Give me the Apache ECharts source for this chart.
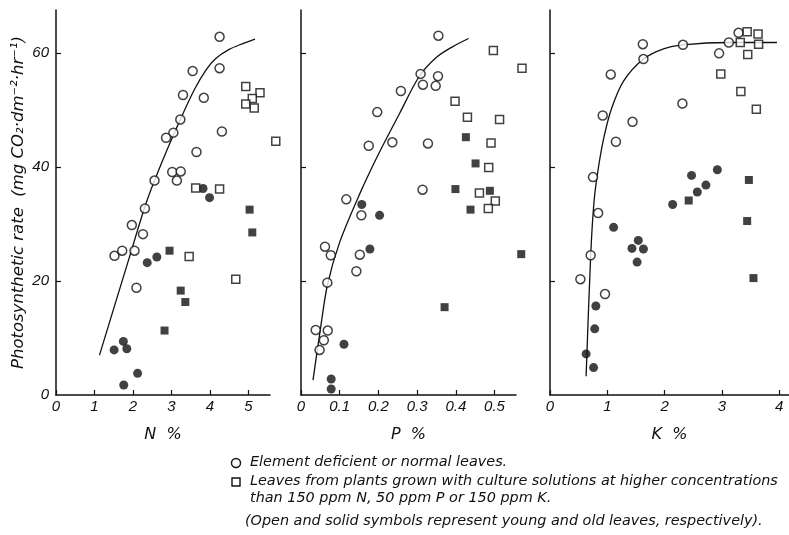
<!DOCTYPE html>
<html>
<head>
<meta charset="utf-8">
<script src="https://cdn.jsdelivr.net/npm/echarts@6/dist/echarts.min.js"></script>
<style>
html,body{margin:0;padding:0;background:#fff;}
#c{width:789px;height:535px;}
</style>
</head>
<body>
<div id="c"></div>
<script>
// ---- Data ----
const yTicks = [0, 20, 40, 60];
const nTicks = [0, 1, 2, 3, 4, 5];
const pTicks = [0, 0.1, 0.2, 0.3, 0.4, 0.5];
const kTicks = [0, 1, 2, 3, 4];

// N panel
const nOpenCircle = [[4.25,62.8],[3.55,56.8],[4.25,57.3],[3.30,52.6],[3.84,52.1],[3.23,48.3],[3.05,46.0],[2.86,45.1],[4.31,46.2],[3.65,42.6],[3.02,39.1],[3.24,39.2],[3.14,37.6],[2.56,37.6],[2.31,32.7],[1.97,29.8],[2.26,28.2],[1.52,24.4],[1.72,25.3],[2.04,25.3],[2.09,18.8]];
const nSolidCircle = [[3.82,36.2],[3.99,34.6],[2.37,23.2],[2.62,24.2],[1.75,9.4],[1.51,7.9],[1.84,8.1],[2.12,3.8],[1.76,1.75]];
const nOpenSquare = [[4.93,54.1],[5.30,53.0],[5.10,52.0],[4.93,51.0],[5.15,50.3],[5.71,44.5],[3.63,36.3],[4.25,36.1],[3.46,24.3],[4.67,20.3]];
const nSolidSquare = [[2.95,25.3],[5.03,32.5],[5.10,28.5],[3.24,18.3],[3.36,16.3],[2.82,11.3]];
const nCurve = [[1.13,7],[1.9,24],[2.36,34],[2.8,41.6],[3.23,48.3],[3.6,53.6],[3.9,57.0],[4.15,59.0],[4.5,60.6],[4.85,61.6],[5.17,62.4]];

// P panel
const pOpenCircle = [[0.355,63.0],[0.309,56.3],[0.354,55.9],[0.315,54.4],[0.348,54.2],[0.258,53.3],[0.197,49.6],[0.175,43.7],[0.236,44.3],[0.328,44.1],[0.314,36.0],[0.117,34.3],[0.156,31.5],[0.062,26.0],[0.077,24.5],[0.152,24.6],[0.143,21.7],[0.068,19.7],[0.038,11.4],[0.069,11.3],[0.059,9.6],[0.048,7.9]];
const pSolidCircle = [[0.157,33.4],[0.203,31.5],[0.178,25.6],[0.111,8.9],[0.078,2.8],[0.078,1.05]];
const pOpenSquare = [[0.497,60.4],[0.571,57.3],[0.398,51.5],[0.430,48.7],[0.513,48.3],[0.491,44.2],[0.485,39.9],[0.461,35.4],[0.502,34.0],[0.484,32.7]];
const pSolidSquare = [[0.426,45.2],[0.451,40.6],[0.399,36.1],[0.488,35.8],[0.438,32.5],[0.569,24.7],[0.371,15.4]];
const pCurve = [[0.031,2.6],[0.05,11.5],[0.068,19.2],[0.1,26.8],[0.15,35.0],[0.2,42.2],[0.255,49.4],[0.305,55.8],[0.35,59.2],[0.39,61.0],[0.433,62.5]];

// K panel
const kOpenCircle = [[3.29,63.5],[3.12,61.8],[2.32,61.4],[1.62,61.5],[1.63,58.9],[2.95,59.9],[1.06,56.2],[2.31,51.1],[0.92,49.0],[1.44,47.9],[1.15,44.4],[0.75,38.2],[0.84,31.9],[0.71,24.5],[0.53,20.3],[0.96,17.7]];
const kSolidCircle = [[2.92,39.5],[2.47,38.5],[2.72,36.8],[2.57,35.6],[2.14,33.4],[1.11,29.4],[1.54,27.1],[1.43,25.7],[1.63,25.6],[1.52,23.3],[0.80,15.6],[0.78,11.6],[0.63,7.2],[0.76,4.8]];
const kOpenSquare = [[3.44,63.7],[3.63,63.3],[3.32,61.8],[3.64,61.5],[3.45,59.7],[2.98,56.3],[3.33,53.2],[3.60,50.1]];
const kSolidSquare = [[2.42,34.1],[3.47,37.7],[3.44,30.5],[3.55,20.5]];
const kCurve = [[0.63,3.3],[0.71,24.5],[0.77,34.1],[0.85,40.2],[0.95,45.6],[1.08,50.4],[1.28,55.0],[1.63,58.9],[1.98,60.7],[2.32,61.4],[3.12,61.8],[3.96,61.8]];

const xNames = ['N  %', 'P  %', 'K  %'];
const yName = 'Photosynthetic rate  (mg CO\u2082\u00b7dm\u207b\u00b2\u00b7hr\u207b\u00b9)';
const legendLines = [
  'Element deficient or normal leaves.',
  'Leaves from plants grown with culture solutions at higher concentrations',
  'than 150 ppm N, 50 ppm P or 150 ppm K.',
  '(Open and solid symbols represent young and old leaves, respectively).'
];

// ---- Chart ----
const FONT = '"Liberation Sans", "DejaVu Sans", sans-serif';
const FONT2 = '"DejaVu Sans", sans-serif';
const chart = echarts.init(document.getElementById('c'), null, {renderer: 'canvas'});

const grids = [
  {left: 56, top: 10, width: 214, height: 385},
  {left: 301, top: 10, width: 215, height: 385},
  {left: 550, top: 10, width: 239, height: 385}
];
const xMax = [5.56, 0.5555, 4.17];
const xTickSets = [nTicks, pTicks, kTicks];

const axisLineStyle = {color: '#111', width: 1.5};
const labelStyle = {color: '#111', fontStyle: 'italic', fontFamily: FONT, fontSize: 15};

const xAxes = grids.map((g, i) => ({
  type: 'value', gridIndex: i, min: 0, max: xMax[i],
  axisLine: {show: true, onZero: false, lineStyle: axisLineStyle},
  axisTick: {show: true, inside: true, length: 5, lineStyle: {color: '#111', width: 1.2}, customValues: xTickSets[i]},
  axisLabel: Object.assign({show: true, margin: 4, customValues: xTickSets[i],
    formatter: v => String(v)}, labelStyle),
  splitLine: {show: false},
  name: xNames[i], nameLocation: 'middle', nameGap: 32,
  nameTextStyle: {color: '#111', fontStyle: 'italic', fontFamily: FONT2, fontSize: 16}
}));

const yAxes = grids.map((g, i) => ({
  type: 'value', gridIndex: i, min: 0, max: 67.5,
  axisLine: {show: true, onZero: false, lineStyle: axisLineStyle},
  axisTick: {show: true, inside: true, length: 5, lineStyle: {color: '#111', width: 1.2}, customValues: yTicks.slice(1)},
  axisLabel: Object.assign({show: i === 0, margin: 7, customValues: yTicks}, labelStyle),
  splitLine: {show: false},
  name: i === 0 ? yName : '', nameLocation: 'middle', nameGap: 29, nameRotate: 90,
  nameTextStyle: {color: '#111', fontStyle: 'italic', fontFamily: FONT2, fontSize: 16.5}
}));

function scatter(data, idx, symbol, filled) {
  return {
    type: 'scatter', xAxisIndex: idx, yAxisIndex: idx, data: data,
    symbol: symbol, symbolSize: symbol === 'circle' ? 9 : 8, clip: false,
    itemStyle: {color: filled ? '#111' : '#fff', borderColor: '#111', borderWidth: filled ? 0 : 1.5},
    emphasis: {disabled: true}, silent: true, z: 3
  };
}
function curve(data, idx) {
  return {
    type: 'line', xAxisIndex: idx, yAxisIndex: idx, data: data,
    smooth: 0.3, showSymbol: false, symbol: 'none', clip: false,
    lineStyle: {color: '#111', width: 1.3}, silent: true, z: 2
  };
}

const panels = [
  [nOpenCircle, nSolidCircle, nOpenSquare, nSolidSquare, nCurve],
  [pOpenCircle, pSolidCircle, pOpenSquare, pSolidSquare, pCurve],
  [kOpenCircle, kSolidCircle, kOpenSquare, kSolidSquare, kCurve]
];
const series = [];
panels.forEach((p, i) => {
  series.push(curve(p[4], i));
  series.push(scatter(p[0], i, 'circle', false));
  series.push(scatter(p[1], i, 'circle', true));
  series.push(scatter(p[2], i, 'rect', false));
  series.push(scatter(p[3], i, 'rect', true));
});

const txt = {fill: '#111', fontStyle: 'italic', fontFamily: FONT2, fontSize: 14.4, textVerticalAlign: 'middle'};
const graphic = [
  {type: 'circle', shape: {cx: 236, cy: 463, r: 4.5}, style: {fill: '#fff', stroke: '#111', lineWidth: 1.4}},
  {type: 'text', left: 250, top: 455, style: Object.assign({text: legendLines[0]}, txt)},
  {type: 'rect', shape: {x: 232, y: 478, width: 8, height: 8}, style: {fill: '#fff', stroke: '#111', lineWidth: 1.4}},
  {type: 'text', left: 250, top: 474, style: Object.assign({text: legendLines[1]}, txt)},
  {type: 'text', left: 250, top: 491, style: Object.assign({text: legendLines[2]}, txt)},
  {type: 'text', left: 245, top: 514, style: Object.assign({text: legendLines[3]}, txt)}
];

chart.setOption({
  animation: false,
  backgroundColor: '#fff',
  grid: grids,
  xAxis: xAxes,
  yAxis: yAxes,
  series: series,
  graphic: graphic
});
</script>
</body>
</html>
